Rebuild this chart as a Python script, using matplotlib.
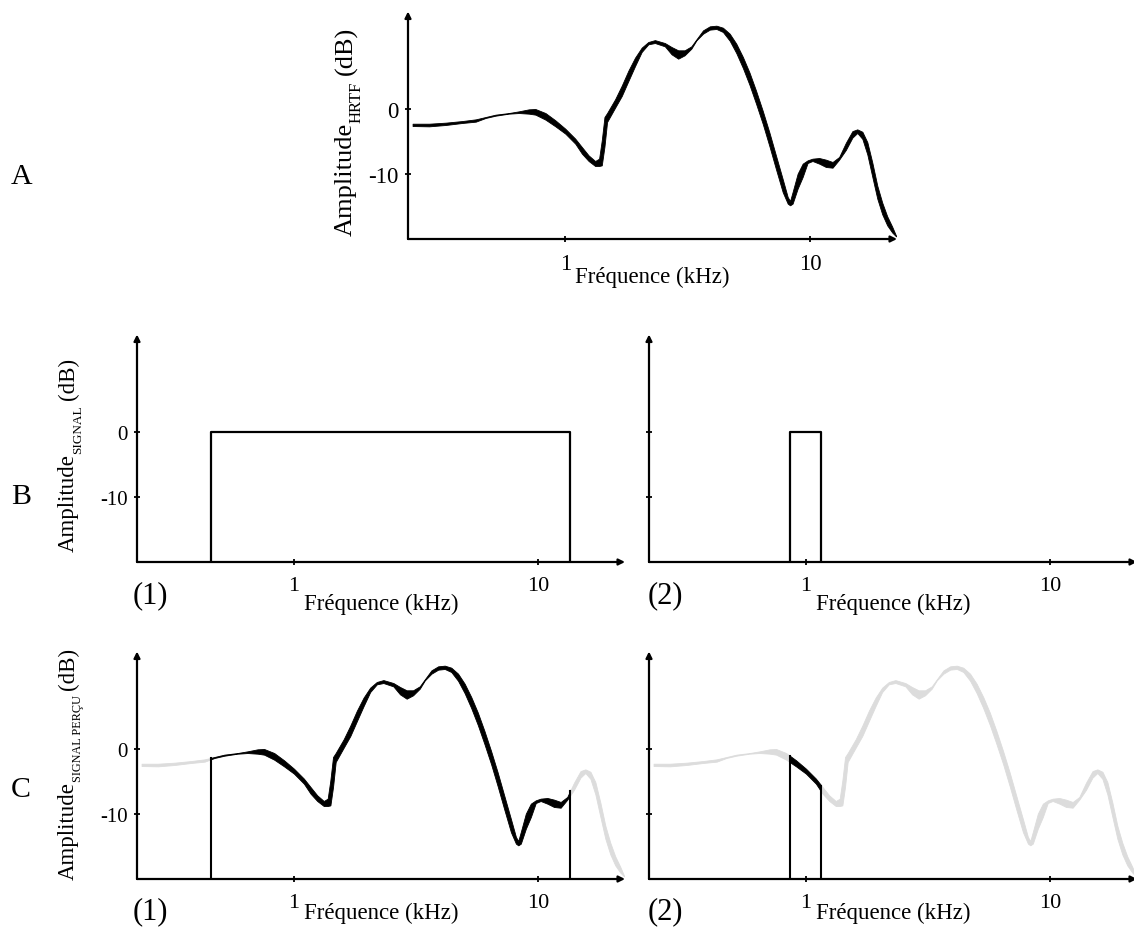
import numpy as np
import matplotlib
matplotlib.use("Agg")
import matplotlib.pyplot as plt
from matplotlib.patches import Rectangle
import matplotlib.transforms as mtransforms

plt.rcParams['font.family'] = ['Liberation Serif', 'DejaVu Serif']

# ---------------- data ----------------
freq_khz = [0.238, 0.278, 0.325, 0.380, 0.431, 0.473, 0.519, 0.588, 0.646, 0.710,
            0.755, 0.830, 0.911, 1.000, 1.098, 1.169, 1.245, 1.324, 1.374, 1.409,
            1.445, 1.481, 1.597, 1.700, 1.809, 1.926, 2.050, 2.182, 2.322, 2.55,
            2.715, 2.89, 3.07, 3.27, 3.43, 3.65, 3.89, 4.14, 4.40, 4.69,
            4.99, 5.31, 5.65, 6.01, 6.40, 6.81, 7.25, 7.72, 8.09, 8.27,
            8.47, 8.88, 9.31, 9.75, 10.21, 10.88, 11.58, 12.33, 13.12, 13.97,
            14.86, 15.56, 16.32, 17.10, 17.91, 18.78, 19.67, 20.61, 21.6, 22.4]
hrtf_upper_db = [-2.26, -2.26, -2.10, -1.85, -1.59, -1.23, -0.87, -0.62, -0.36, -0.05,
                 0.0, -0.62, -1.74, -3.03, -4.56, -5.85, -7.13, -8.0, -7.64, -4.82,
                 -1.23, -0.62, 1.5, 3.6, 5.9, 7.9, 9.44, 10.31, 10.6, 10.15,
                 9.54, 9.03, 9.03, 9.64, 10.72, 12.10, 12.72, 12.82, 12.51, 11.59,
                 10.05, 8.0, 5.6, 2.8, -0.3, -3.6, -7.2, -10.8, -13.54, -14.15,
                 -12.77, -9.95, -8.41, -7.90, -7.64, -7.54, -7.79, -8.15, -7.38, -5.2,
                 -3.4, -3.13, -3.5, -5.1, -8.2, -11.8, -14.4, -16.5, -18.1, -19.5]
hrtf_lower_db = [-2.62, -2.67, -2.46, -2.15, -1.95, -1.38, -1.03, -0.72, -0.62, -0.72,
                 -0.87, -1.64, -2.67, -3.79, -5.33, -6.87, -8.0, -8.77, -8.77, -8.67,
                 -5.8, -2.0, 0.2, 2.0, 4.3, 6.6, 8.77, 9.95, 10.15, 9.64,
                 8.41, 7.74, 8.26, 9.28, 10.56, 11.59, 12.21, 12.31, 11.85, 10.5,
                 8.6, 6.3, 3.7, 0.8, -2.3, -5.7, -9.3, -12.8, -14.56, -14.82,
                 -14.56, -12.26, -10.46, -8.31, -8.0, -8.41, -8.92, -9.03, -7.79, -6.3,
                 -4.4, -3.69, -4.6, -7.0, -10.4, -13.8, -16.2, -17.9, -19.0, -19.6]

# signal bands (kHz) and level (dB)
band1_khz = [0.457, 13.5]
band2_khz = [0.861, 1.157]
signal_level_db = 0
floor_db = -20

x_ticks = [1, 10]
x_ticklabels = ["1", "10"]
y_ticks = [-10, 0]
y_ticklabels = ["-10", "0"]
xlim = (0.228, 22.6)
ylim = (-20, 15)

freq = np.array(freq_khz)
up = np.array(hrtf_upper_db)
lo = np.array(hrtf_lower_db)

W, H = 1134, 929
fig = plt.figure(figsize=(W / 100, H / 100), dpi=100)
renderer = fig.canvas.get_renderer()

def axes_px(x0, ybot, w=488, h=227.5):
    return fig.add_axes([x0 / W, (H - ybot) / H, w / W, h / H])

def ftext(x, y, s, **kw):
    return fig.text(x / W, 1 - y / H, s, **kw)

GRAY = '#dcdcdc'
LABFS = 16.5

def setup(ax, ylabels=True, xlabel_off=37, xtfs=16, ytfs=15):
    ax.set_xscale('log')
    ax.set_xlim(*xlim)
    ax.set_ylim(*ylim)
    for s in ax.spines.values():
        s.set_visible(False)
    ax.patch.set_alpha(0)
    ax.annotate('', xy=(1.0, 0), xytext=(0, 0), xycoords='axes fraction',
                arrowprops=dict(arrowstyle='-|>', lw=1.6, color='k',
                                mutation_scale=9, shrinkA=0, shrinkB=0))
    ax.annotate('', xy=(0, 1.0), xytext=(0, 0), xycoords='axes fraction',
                arrowprops=dict(arrowstyle='-|>', lw=1.6, color='k',
                                mutation_scale=9, shrinkA=0, shrinkB=0))
    ax.set_xticks(x_ticks)
    ax.set_xticklabels(x_ticklabels, fontsize=xtfs)
    ax.xaxis.set_minor_locator(matplotlib.ticker.NullLocator())
    ax.set_yticks(y_ticks)
    if ylabels:
        ax.set_yticklabels(y_ticklabels, fontsize=ytfs)
    else:
        ax.set_yticklabels([])
    ax.tick_params(direction='inout', length=5, width=1.3)
    ax.tick_params(axis='x', pad=7.5)
    ax.tick_params(axis='y', pad=4)
    tr = ax.transAxes + mtransforms.ScaledTranslation(0, -xlabel_off / 100, fig.dpi_scale_trans)
    ax.text(0.5, 0, 'Fréquence (kHz)', transform=tr, fontsize=LABFS,
            ha='center', va='center')

def ribbon(ax, color, zorder=2):
    return ax.fill_between(freq, lo, up, color=color, lw=0.6, edgecolor=color, zorder=zorder)

def rot_label(x_base, y_bottom, main_fs, sub_fs, sub_shift, main, sub, tail='(dB)', gap=5):
    """Vertical label built from pieces: main text, small subscript, tail."""
    y = y_bottom
    pieces = [(main, main_fs, 0, 0), (sub, sub_fs, sub_shift, gap), (tail, main_fs, 0, 0)]
    for txt, fs, dx, g in pieces:
        t = ftext(x_base + dx, y, txt, fontsize=fs, rotation=90,
                  rotation_mode='anchor', ha='left', va='baseline')
        bb = t.get_window_extent(renderer)
        y -= bb.height + g

# ---------------- A ----------------
axA = axes_px(408, 240, w=489)
setup(axA, True, xlabel_off=37, xtfs=16.5, ytfs=16.5)
ribbon(axA, 'k')
rot_label(352, 236, 19, 12, 9, 'Amplitude', 'HRTF', gap=6)

# ---------------- B ----------------
axB1 = axes_px(137, 563)
setup(axB1, True, xlabel_off=41)
axB1.plot([band1_khz[0], band1_khz[0], band1_khz[1], band1_khz[1]],
          [floor_db, signal_level_db, signal_level_db, floor_db], color='k', lw=1.6)
rot_label(74, 552, 16.5, 9.5, 7, 'Amplitude', 'SIGNAL', gap=5)

axB2 = axes_px(649, 563)
setup(axB2, False, xlabel_off=41)
axB2.plot([band2_khz[0], band2_khz[0], band2_khz[1], band2_khz[1]],
          [floor_db, signal_level_db, signal_level_db, floor_db], color='k', lw=1.6)

# ---------------- C ----------------
def panelC(ax, band):
    ribbon(ax, GRAY, zorder=1)
    blk = ribbon(ax, 'k', zorder=2)
    clip = Rectangle((band[0], ylim[0]), band[1] - band[0], ylim[1] - ylim[0],
                     transform=ax.transData)
    blk.set_clip_path(clip)
    lf = np.log10(freq)
    for b in band:
        top = np.interp(np.log10(b), lf, up)
        ax.plot([b, b], [floor_db, top], color='k', lw=1.5, zorder=3)

axC1 = axes_px(137, 880)
setup(axC1, True, xlabel_off=33)
panelC(axC1, band1_khz)
rot_label(74, 880, 16.5, 8.8, 7, 'Amplitude', 'SIGNAL PERÇU', gap=5)

axC2 = axes_px(649, 880)
setup(axC2, False, xlabel_off=33)
panelC(axC2, band2_khz)

# ---------------- letters ----------------
LETFS = 21.5
PFS = 22
ftext(22, 177, 'A', fontsize=LETFS, ha='center', va='center')
ftext(21, 497, 'B', fontsize=LETFS, ha='center', va='center')
ftext(21, 790, 'C', fontsize=LETFS, ha='center', va='center')
ftext(150, 596, '(1)', fontsize=PFS, ha='center', va='center')
ftext(665, 596, '(2)', fontsize=PFS, ha='center', va='center')
ftext(150, 912, '(1)', fontsize=PFS, ha='center', va='center')
ftext(665, 912, '(2)', fontsize=PFS, ha='center', va='center')

fig.savefig('out.png', dpi=100)
